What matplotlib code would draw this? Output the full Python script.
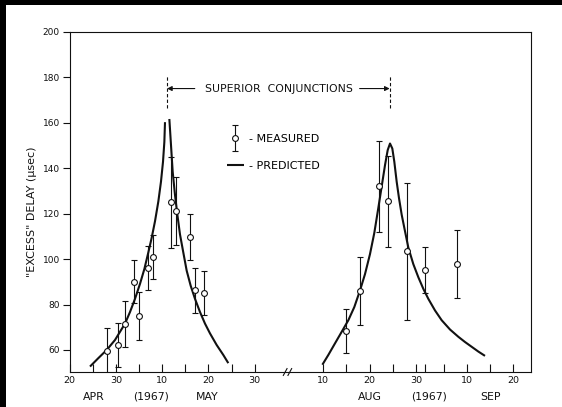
import numpy as np
import matplotlib
matplotlib.use("Agg")
import matplotlib.pyplot as plt
import matplotlib.transforms as mtransforms
from matplotlib.patches import Rectangle
from matplotlib.container import ErrorbarContainer
from matplotlib.legend_handler import HandlerErrorbar

plt.rcParams['font.family'] = ['DejaVu Sans']

# ---- data (x = day of year 1967) ----
meas_doy = [118, 120.5, 122, 124, 125, 127, 128, 132, 133, 136, 137, 139,
            227, 230, 234, 236, 240, 244, 251]
meas_val = [59.6, 62.0, 71.4, 90.1, 75.0, 96.0, 100.9, 125.1, 121.3, 109.8, 86.2, 85.0,
            68.2, 85.8, 132.0, 125.5, 103.4, 95.3, 97.8]
meas_err = [10, 9.7, 10, 9.6, 10.4, 9.6, 9.8, 20, 15, 10, 10, 9.7,
            9.7, 15, 20, 20, 30, 10, 15]

# predicted curve, first conjunction, before the gap at the peak
pred_a_doy = [114.39, 116.19, 118.0, 119.8, 121.96, 123.04, 124.12, 125.2, 126.14,
              127.0, 127.73, 128.45, 129.17, 129.74, 130.18, 130.47, 130.61]
pred_a_val = [52.7, 56.4, 60.0, 64.4, 71.6, 76.7, 82.5, 89.1, 95.6,
              102.9, 109.4, 116.7, 125.4, 134.1, 142.9, 151.6, 160.3]
# predicted curve, first conjunction, after the peak
pred_b_doy = [131.55, 131.91, 132.27, 132.77, 133.28, 133.85, 134.57, 135.3, 136.16,
              137.1, 138.18, 139.26, 140.34, 141.78, 143.22, 144.3]
pred_b_val = [161.7, 150.1, 138.5, 128.3, 119.6, 110.9, 102.9, 94.9, 88.3,
              82.5, 76.7, 71.6, 67.3, 62.2, 57.8, 54.2]
# predicted curve, second conjunction
pred_c_doy = [221.79, 223.08, 224.52, 225.97, 227.41, 228.7, 229.93, 231.01, 232.09,
              233.03, 233.89, 234.62, 235.34, 235.92, 236.42, 236.92, 237.35, 237.86,
              238.36, 238.94, 239.66, 240.38, 241.46, 242.55, 243.63, 244.71, 246.15,
              247.59, 249.4, 251.2, 252.64, 254.08, 255.52, 256.96]
pred_c_val = [53.5, 57.8, 62.9, 68.0, 73.1, 78.9, 86.2, 93.4, 102.2,
              111.6, 122.5, 132.0, 141.4, 148.0, 150.9, 148.7, 142.9, 134.1,
              126.9, 119.6, 112.3, 105.1, 97.8, 92.0, 86.9, 82.5, 77.4,
              73.1, 69.0, 65.8, 63.5, 61.4, 59.3, 57.4]

conj_doy = [131.05, 236.35]

major_tick_doy = [110, 120, 130, 140, 150, 222, 232, 242, 253, 263]
major_tick_lbl = ['20', '30', '10', '20', '30', '10', '20', '30', '10', '20']
minor_tick_doy = [115, 125, 135, 145, 227, 237, 244, 248, 258]
month_doy = [115.3, 127.5, 139.7, 232.1, 244.9, 258.1]
month_lbl = ['APR', '(1967)', 'MAY', 'AUG', '(1967)', 'SEP']
yticks = [60, 80, 100, 120, 140, 160, 180, 200]


def xpos(doy):
    """Broken date axis: Apr-May and Aug-Sep joined."""
    d = np.asarray(doy, dtype=float)
    return np.where(d < 180, d - 110.0, d - 167.15)


W, H = 562, 407
fig = plt.figure(figsize=(W / 100, H / 100), dpi=100, facecolor='white')
# dark border of the scanned page
fig.patches.append(Rectangle((0, 402 / H), 1, 5 / H, transform=fig.transFigure,
                             facecolor='black', edgecolor='none', zorder=-5))
fig.patches.append(Rectangle((0, 0), 6 / W, 1, transform=fig.transFigure,
                             facecolor='black', edgecolor='none', zorder=-5))
ax = fig.add_axes([69.7 / W, 35 / H, 461.3 / W, 340 / H])
ax.set_facecolor('white')

ink = '#111111'
h_meas = ax.errorbar(xpos(meas_doy), meas_val, yerr=meas_err, fmt='o', ms=4.2,
                     mfc='white', mec=ink, mew=0.8, ecolor=ink, elinewidth=0.8,
                     capsize=2, capthick=0.8, zorder=3, label='- MEASURED')
kw = dict(color=ink, lw=1.5, solid_joinstyle='round', solid_capstyle='butt')
line_a, = ax.plot(xpos(pred_a_doy), pred_a_val, label='- PREDICTED', **kw)
ax.plot(xpos(pred_b_doy), pred_b_val, **kw)
ax.plot(xpos(pred_c_doy), pred_c_val, **kw)

ax.set_xlim(0, 99.76)
ax.set_ylim(50.3, 200)

ax.set_xticks(xpos(major_tick_doy))
ax.set_xticklabels(major_tick_lbl)
ax.set_xticks(xpos(minor_tick_doy), minor=True)
ax.set_yticks(yticks)
ax.tick_params(axis='y', direction='out', length=5, width=0.8, pad=2,
               labelsize=6.5, colors=ink)
ax.tick_params(axis='x', which='both', direction='in', length=6, width=0.8,
               pad=3, labelsize=6.8, colors=ink)
for s in ax.spines.values():
    s.set_linewidth(0.8)
    s.set_color(ink)

ax.set_ylabel('"EXCESS" DELAY (μsec)', fontsize=8, color=ink)
ax.yaxis.set_label_coords(-0.071, 0.47)

trans = mtransforms.blended_transform_factory(ax.transData, ax.transAxes)
for d, lbl in zip(month_doy, month_lbl):
    ax.text(float(xpos(d)), -0.0735, lbl, transform=trans, ha='center',
            va='center', fontsize=7.8, color=ink)

# superior conjunction markers
cx = xpos(conj_doy)
for x in cx:
    ax.plot([x, x], [166.5, 181], color=ink, lw=0.8, ls=(0, (3, 2)))
ytxt = 175.1
ax.text(45.26, ytxt, 'SUPERIOR  CONJUNCTIONS', ha='center', va='center',
        fontsize=7.8, color=ink)
ax.annotate('', xy=(cx[0], ytxt), xytext=(cx[0] + 6.0, ytxt),
            arrowprops=dict(arrowstyle='-|>', color=ink, lw=0.8,
                            mutation_scale=7, shrinkA=0, shrinkB=0))
ax.annotate('', xy=(cx[1], ytxt), xytext=(cx[1] - 6.5, ytxt),
            arrowprops=dict(arrowstyle='-|>', color=ink, lw=0.8,
                            mutation_scale=7, shrinkA=0, shrinkB=0))

# axis break mark
bx = 47.3
for off in (-0.7, 0.3):
    ax.plot([bx + off - 0.4, bx + off + 0.4], [48.8, 51.8], color=ink, lw=0.8,
            clip_on=False)

ax.legend(handles=[h_meas, line_a], loc='upper left', bbox_to_anchor=(0.34, 0.70),
          frameon=False, fontsize=8, handlelength=1.55, handletextpad=0.5,
          labelspacing=1.55, borderpad=0, borderaxespad=0,
          handler_map={ErrorbarContainer: HandlerErrorbar(yerr_size=1.2)})

fig.savefig('out.png', dpi=100, facecolor=fig.get_facecolor())
